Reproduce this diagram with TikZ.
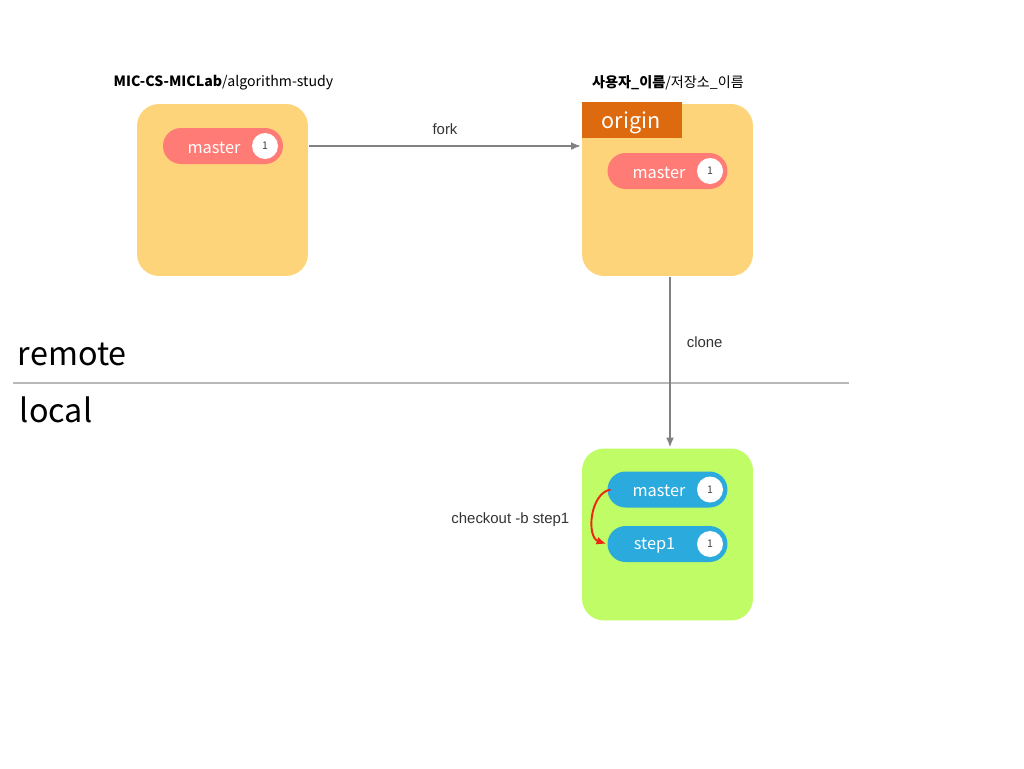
\documentclass[tikz,border=0pt]{standalone}
\usepackage{fontspec}
\setmainfont{Liberation Sans}
\setsansfont{Noto Sans CJK KR}
\usetikzlibrary{positioning,arrows.meta}
\definecolor{repoyellow}{RGB}{254,212,122}
\definecolor{localgreen}{RGB}{191,252,102}
\definecolor{origintab}{RGB}{222,106,16}
\definecolor{branchred}{RGB}{255,124,118}
\definecolor{branchblue}{RGB}{43,170,221}
\definecolor{arrowgray}{RGB}{130,130,130}
\definecolor{linegray}{RGB}{185,185,185}
\definecolor{checkred}{RGB}{238,38,18}
\begin{document}
\begin{tikzpicture}[x=0.02cm,y=-0.02cm,line width=1.1pt,>={Latex[length=0.2cm,width=0.16cm]},
    repo node/.style={rounded corners=0.44cm,minimum width=3.42cm,minimum height=3.44cm,inner sep=0pt},
    branch node/.style={rounded corners=0.36cm,minimum width=2.4cm,minimum height=0.72cm,inner sep=0pt},
    branch label/.style={text=white,font=\sffamily\fontsize{9.3}{11}\selectfont},
    count node/.style={circle,fill=white,minimum size=0.52cm,inner sep=0pt,text=black!75,font=\sffamily\fontsize{6}{7}\selectfont},
    title node/.style={font=\sffamily\fontsize{8.05}{10}\selectfont},
    cmd node/.style={text=black!80,font=\fontsize{8.5}{10}\selectfont},
    side node/.style={font=\sffamily\fontsize{18.4}{22}\selectfont}]
                \useasboundingbox (0,0) rectangle (1024,768);
                % repositories
                \node[repo node,fill=repoyellow] at (222.5,190) (upstream) {};
                \node[repo node,fill=repoyellow] at (667.5,190) (forkrepo) {};
                \node[repo node,fill=localgreen] at (667.5,534.5) (localrepo) {};
                \node[fill=origintab,minimum width=2cm,minimum height=0.72cm,inner sep=0pt,text=white,font=\sffamily\fontsize{12.3}{14}\selectfont] at (632,120) (tab) {};
                \node[text=white,font=\sffamily\fontsize{12.3}{14}\selectfont] at (631,123) (tabt) {origin};
                \node[title node] at (223.5,83) (upname) {\textbf{MIC-CS-MICLab}/algorithm-study};
                \node[title node] at (668,83) (myname) {\textbf{사용자\_이름}/저장소\_이름};
                % branches
                \node[branch node,fill=branchred] at (223,146) (um) {};
                \node[branch label] at (214,147.5) (umt) {master};
                \node[count node] at (265,146) (umc) {1};
                \node[branch node,fill=branchred] at (667.5,171) (om) {};
                \node[branch label] at (659,172.5) (omt) {master};
                \node[count node] at (710,171) (omc) {1};
                \node[branch node,fill=branchblue] at (667.5,489.5) (lm) {};
                \node[branch label] at (659,491) (lmt) {master};
                \node[count node] at (710,489.5) (lmc) {1};
                \node[branch node,fill=branchblue] at (667.5,544) (ls) {};
                \node[branch label] at (654.5,545.5) (lst) {step1};
                \node[count node] at (710,544) (lsc) {1};
                % remote / local
                \coordinate (divl) at (13,383);
                \coordinate (divr) at (849,383);
                \draw[linegray] (divl) -- (divr);
                \node[side node,anchor=base west,inner sep=0pt] at (17,365) (remote) {remote};
                \node[side node,anchor=base west,inner sep=0pt] at (19,422) (local) {local};
                % operations
                \path[->] (um.east -| upstream.east) edge[draw=arrowgray] node[cmd node,above=0.1cm] {fork} (um.east -| forkrepo.west);
                \path[->] ([xshift=0.05cm]forkrepo.south) edge[draw=arrowgray] node[cmd node,right=0.2cm,pos=0.38] {clone} ([xshift=0.05cm]localrepo.north);
                \path[->] ([xshift=0.08cm]lm.west) edge[draw=checkred,bend right=75] node[cmd node,left,xshift=-0.34cm,yshift=-0.08cm] {checkout -b step1} (ls.west);

            \end{tikzpicture}
\end{document}
